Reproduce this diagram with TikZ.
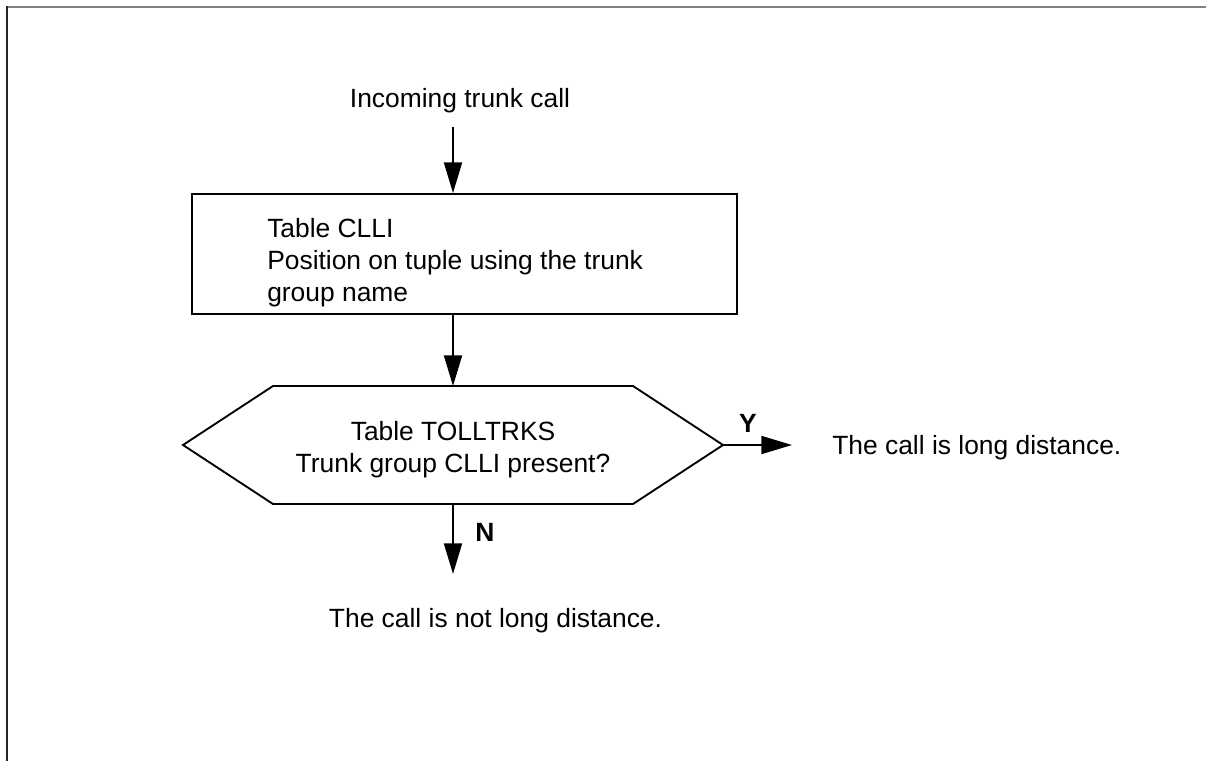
\documentclass[tikz,border=0pt]{standalone}
\usepackage{fontspec}
\setmainfont{Liberation Sans}
\usetikzlibrary{arrows.meta}

\tikzset{
    flow/.style={line width=1.4pt},
    flowarrow/.style={flow,-{Triangle[length=23pt,width=13.5pt]}},
    txt/.style={inner sep=0pt,font=\fontsize{19.8}{24}\selectfont},
    yn/.style={inner sep=0pt,font=\fontsize{19.8}{24}\selectfont\bfseries},
}

\begin{document}
\begin{tikzpicture}[x=0.75pt,y=-0.75pt]
    \useasboundingbox (0,0) rectangle (1206,761);
    \draw[line width=1.5pt,gray] (6,6.5) -- (1206,6.5);
    \draw[line width=1.5pt,black!85] (6.5,6) -- (6.5,761);
    %\\
    \node[txt,anchor=base] (incoming) at (460,107) {Incoming trunk call};
    \coordinate (inStart) at (453,127);
    \node[draw,flow,inner sep=0pt,minimum width=408.75pt,minimum height=90pt] (clli) at (464.5,254) {};
    \node[txt,anchor=west,align=left] (clliText) at (267,263) {Table CLLI\\Position on tuple using the trunk\\group name};
    \draw[flowarrow] (inStart) -- (inStart |- clli.north);
    %\\
    \coordinate (hexW) at (183,445);
    \coordinate (hexNW) at (273,386);
    \coordinate (hexTop) at (453,386);
    \coordinate (hexNE) at (633,386);
    \coordinate (hexE) at (723,445);
    \coordinate (hexSE) at (633,504);
    \coordinate (hexBot) at (453,504);
    \coordinate (hexSW) at (273,504);
    \draw[flow] (hexW) -- (hexNW) -- (hexNE) -- (hexE) -- (hexSE) -- (hexSW) -- cycle;
    \node[txt,align=center] (tolltrks) at (453,450) {Table TOLLTRKS\\Trunk group CLLI present?};
    \draw[flowarrow] (clli.south -| hexTop) -- (hexTop);
    %\\
    \coordinate (yEnd) at (792,445);
    \coordinate (nEnd) at (453,574);
    \draw[flowarrow] (hexE) -- (yEnd);
    \draw[flowarrow] (hexBot) -- (nEnd);
    \node[yn] (yes) at (748,423) {Y};
    \node[yn] (no) at (485,532) {N};
    \node[txt,anchor=base west] (longdist) at (832,454) {The call is long distance.};
    \node[txt,anchor=base] (notlong) at (495.5,627) {The call is not long distance.};
\end{tikzpicture}
\end{document}
